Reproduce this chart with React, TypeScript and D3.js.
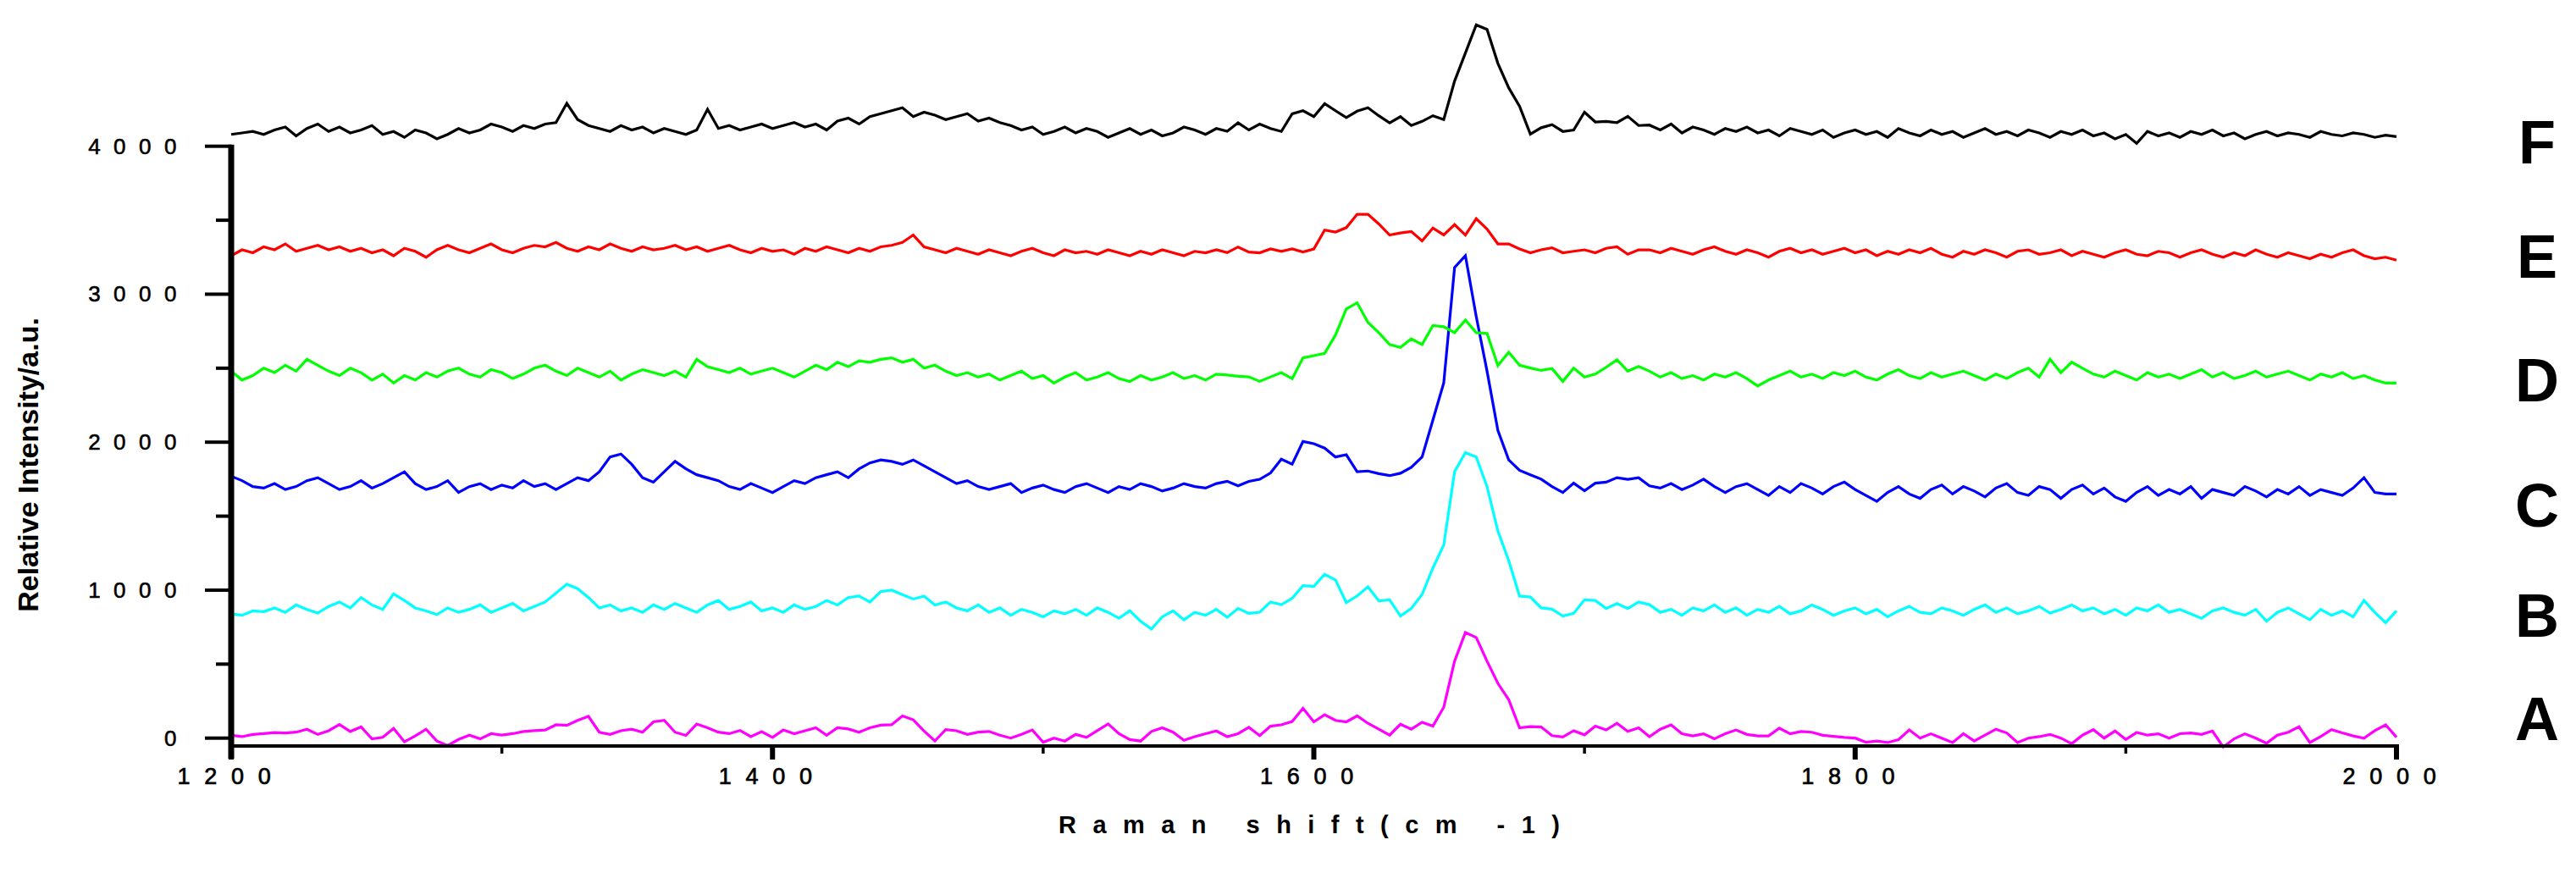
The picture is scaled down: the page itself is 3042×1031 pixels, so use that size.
import React from "react";
import * as d3 from "d3";

// Raman spectra, stacked. Values on a 4 cm-1 grid.
const shift = d3.range(1200, 2001, 4);

const seriesA = [
  19, 10, 25, 30, 38, 35, 40, 60, 25, 50,
  92, 45, 76, -5, 5, 65, -25, 15, 60, -20,
  -50, -9, 20, -5, 30, 20, 30, 45, 50, 55,
  90, 86, 120, 147, 40, 25, 50, 60, 40, 110,
  120, 40, 18, 95, 70, 40, 30, 52, 10, 44,
  5, 55, 30, 50, 70, 20, 70, 62, 40, 70,
  88, 90, 150, 124, 48, -19, 57, 50, 25, 40,
  45, 20, 0, 25, 55, -28, 0, -20, 25, 5,
  50, 96, 30, -10, -20, 45, 70, 40, -15, 10,
  30, 48, 10, 30, 73, 17, 81, 90, 112, 201,
  110, 158, 120, 110, 150, 100, 60, 20, 94, 60,
  107, 81, 209, 520, 714, 680, 520, 370, 260, 70,
  78, 75, 17, 8, 50, 22, 81, 55, 100, 45,
  70, 10, 60, 90, 30, 15, 29, -5, 30, 55,
  25, 15, 15, 67, 29, 45, 40, 19, 12, 5,
  0, -28, -20, -30, -10, 55, 0, 29, 0, -30,
  30, -20, 20, 60, 35, -30, 0, 10, 25, 0,
  -38, 20, 57, 0, 48, -9, 38, 20, 29, 0,
  30, 35, 25, 48, -60, -5, 29, 0, -35, 20,
  40, 76, -30, 10, 57, 35, 15, 0, 50, 90,
  6,
];

const seriesB = [
  840, 830, 860, 855, 880, 850, 900, 870, 845, 890,
  920, 880, 950, 900, 870, 975, 930, 880, 860, 835,
  880, 850, 870, 900, 850, 880, 910, 860, 890, 920,
  980, 1040, 1010, 950, 880, 900, 860, 880, 850, 900,
  870, 910, 880, 850, 900, 930, 870, 890, 920, 860,
  880, 850, 900, 870, 890, 930, 900, 950, 960, 920,
  990, 1000, 970, 940, 960, 900, 920, 880, 860, 900,
  850, 880, 830, 870, 850, 820, 860, 840, 870, 830,
  880, 850, 810, 860, 790, 737, 820, 860, 800, 850,
  830, 870, 817, 876, 843, 851, 920, 902, 945, 1030,
  1025, 1107, 1069, 915, 961, 1022, 928, 935, 825, 876,
  971, 1150, 1305, 1800, 1930, 1900, 1700, 1400, 1200, 960,
  953, 880, 872, 825, 843, 935, 930, 876, 910, 876,
  920, 902, 850, 870, 830, 880, 860, 900, 850, 880,
  830, 870, 850, 890, 840, 860, 900, 870, 830, 860,
  880, 840, 870, 820, 860, 890, 850, 840, 880, 860,
  830, 870, 900, 850, 880, 840, 860, 890, 845, 870,
  900, 860, 880, 840, 870, 830, 880, 860, 900, 850,
  870, 840, 810, 860, 880, 850, 830, 870, 790, 850,
  880, 840, 800, 870, 830, 860, 820, 930, 850, 780,
  860,
];

const seriesC = [
  1770, 1740, 1700, 1690, 1720, 1680, 1700, 1740, 1760, 1720,
  1680, 1700, 1740, 1690, 1720, 1760, 1800, 1720, 1680, 1700,
  1740, 1660, 1700, 1720, 1680, 1710, 1690, 1740, 1700, 1720,
  1680, 1720, 1760, 1740, 1800, 1900, 1920, 1850, 1760, 1730,
  1800, 1870, 1820, 1780, 1760, 1740, 1700, 1680, 1720, 1690,
  1660, 1700, 1740, 1720, 1760, 1780, 1800, 1760, 1820, 1860,
  1880, 1870, 1850, 1880, 1840, 1800, 1760, 1720, 1740, 1700,
  1680, 1700, 1720, 1660, 1690, 1710, 1680, 1660, 1700, 1720,
  1690, 1660, 1700, 1680, 1720, 1700, 1670, 1690, 1720, 1700,
  1690, 1720, 1736, 1705, 1735, 1749, 1792, 1885, 1851, 2005,
  1990, 1960, 1900, 1915, 1800, 1805, 1787, 1774, 1790, 1830,
  1900, 2150, 2400, 3180, 3260, 2850, 2480, 2080, 1880, 1810,
  1780, 1750, 1700, 1660, 1723, 1672, 1723, 1730, 1760, 1749,
  1760, 1705, 1690, 1720, 1680, 1710, 1750, 1700, 1660, 1700,
  1720, 1680, 1640, 1700, 1660, 1720, 1690, 1650, 1700, 1730,
  1680, 1640, 1600, 1660, 1700, 1650, 1620, 1680, 1710, 1650,
  1700, 1670, 1630, 1690, 1720, 1660, 1640, 1700, 1680, 1620,
  1680, 1710, 1650, 1690, 1630, 1600, 1660, 1700, 1640, 1680,
  1650, 1700, 1620, 1680, 1660, 1640, 1700, 1670, 1630, 1680,
  1650, 1700, 1640, 1680, 1660, 1640, 1690, 1760, 1660, 1650,
  1650,
];

const seriesD = [
  2480, 2420, 2450, 2500, 2470, 2520, 2480, 2560, 2520, 2480,
  2450, 2500, 2470, 2420, 2460, 2400, 2450, 2420, 2470, 2440,
  2480, 2500, 2460, 2440, 2490, 2470, 2430, 2460, 2500, 2520,
  2480, 2450, 2500, 2470, 2440, 2480, 2420, 2460, 2490, 2470,
  2450, 2480, 2440, 2560, 2510, 2490, 2470, 2500, 2460, 2480,
  2500, 2470, 2440, 2480, 2520, 2490, 2540, 2510, 2550, 2540,
  2560, 2570, 2540, 2560, 2500, 2520, 2480, 2450, 2470, 2440,
  2460, 2420, 2450, 2480, 2430, 2450, 2400, 2440, 2470, 2420,
  2440, 2470, 2430, 2410, 2450, 2420, 2440, 2470, 2430, 2450,
  2420, 2460, 2454, 2445, 2441, 2411, 2441, 2470, 2429, 2570,
  2585, 2600, 2724, 2900, 2942, 2810, 2740, 2660, 2640, 2698,
  2660, 2788, 2780, 2740, 2826, 2740, 2735, 2518, 2608, 2520,
  2501, 2485, 2498, 2411, 2501, 2440, 2460, 2506, 2557, 2480,
  2512, 2480, 2440, 2470, 2430, 2450, 2420, 2460, 2440, 2470,
  2430, 2380, 2420, 2450, 2480, 2440, 2460, 2430, 2470, 2450,
  2480, 2440, 2420, 2460, 2490, 2450, 2430, 2470, 2440, 2460,
  2480, 2450, 2420, 2460, 2430, 2470, 2500, 2440, 2560, 2470,
  2540, 2500, 2460, 2440, 2480, 2450, 2420, 2470, 2440, 2460,
  2430, 2460, 2490, 2440, 2470, 2430, 2450, 2480, 2440, 2460,
  2480, 2450, 2420, 2460, 2440, 2470, 2430, 2450, 2420, 2400,
  2400,
];

const seriesE = [
  3260, 3300, 3280, 3320, 3300, 3340, 3290, 3310, 3330, 3300,
  3320, 3290, 3310, 3280, 3300, 3260, 3310, 3290, 3250, 3300,
  3330, 3300, 3280, 3310, 3340, 3300, 3280, 3310, 3330, 3320,
  3350, 3310, 3290, 3320, 3300, 3340, 3310, 3290, 3320, 3300,
  3310, 3330, 3300, 3320, 3290, 3310, 3330, 3300, 3280, 3310,
  3290, 3300, 3270, 3310, 3290, 3320, 3300, 3280, 3310, 3290,
  3320, 3330, 3350, 3400, 3320, 3300, 3280, 3310, 3290, 3270,
  3300, 3280, 3260, 3290, 3310, 3280, 3260, 3300, 3280, 3290,
  3270, 3300, 3280, 3260, 3290, 3270, 3300, 3280, 3260, 3290,
  3280, 3300, 3281, 3319, 3285, 3280, 3306, 3290, 3306, 3285,
  3305, 3433, 3420, 3450, 3540, 3540, 3475, 3400, 3414, 3424,
  3360, 3447, 3401, 3470, 3400, 3510, 3440, 3340, 3340, 3306,
  3280, 3300, 3314, 3280, 3290, 3300, 3280, 3310, 3320, 3270,
  3300, 3300, 3280, 3310, 3290, 3270, 3300, 3320, 3290, 3270,
  3300, 3280, 3250, 3290, 3310, 3280, 3300, 3270, 3290, 3310,
  3280, 3300, 3260, 3290, 3270, 3300, 3280, 3310, 3270, 3250,
  3290, 3270, 3300, 3280, 3250, 3290, 3300, 3270, 3280, 3300,
  3260, 3290, 3270, 3250, 3280, 3300, 3270, 3260, 3290, 3280,
  3250, 3280, 3300, 3270, 3250, 3280, 3260, 3300, 3270, 3250,
  3280, 3260, 3240, 3270, 3250, 3280, 3300, 3260, 3240, 3250,
  3230,
];

const seriesF = [
  4080, 4090, 4100, 4080, 4110, 4130, 4070, 4120, 4150, 4100,
  4130, 4090, 4110, 4140, 4080, 4100, 4060, 4110, 4090, 4050,
  4080, 4120, 4090, 4110, 4150, 4130, 4100, 4140, 4120, 4150,
  4160, 4290, 4180, 4140, 4120, 4100, 4140, 4110, 4130, 4090,
  4120, 4100, 4080, 4110, 4250, 4120, 4140, 4110, 4130, 4150,
  4120, 4140, 4160, 4130, 4150, 4110, 4170, 4190, 4150, 4200,
  4220, 4240, 4260, 4200, 4230, 4210, 4180, 4200, 4220, 4170,
  4190, 4160, 4140, 4110, 4130, 4080, 4100, 4130, 4090, 4120,
  4100, 4060, 4090, 4120, 4080, 4110, 4070, 4090, 4130, 4110,
  4080, 4120, 4101, 4158, 4110, 4150, 4120, 4100, 4219, 4240,
  4200, 4288, 4240, 4194, 4237, 4260, 4206, 4158, 4200, 4140,
  4168, 4206, 4180, 4440, 4630, 4820, 4790, 4560, 4395, 4270,
  4082, 4125, 4146, 4100, 4110, 4230, 4164, 4168, 4160, 4202,
  4140, 4143, 4110, 4150, 4090, 4130, 4110, 4080, 4120, 4100,
  4130, 4090, 4110, 4070, 4120, 4100, 4080, 4110, 4060, 4090,
  4110, 4080, 4100, 4060, 4120, 4090, 4070, 4110, 4080, 4100,
  4060, 4090, 4120, 4080, 4100, 4070, 4110, 4090, 4060, 4100,
  4080, 4110, 4070, 4090, 4050, 4080, 4020, 4100, 4070, 4090,
  4060, 4100, 4080, 4110, 4070, 4090, 4050, 4080, 4100, 4070,
  4090, 4080, 4060, 4100, 4080, 4070, 4090, 4080, 4060, 4075,
  4065,
];

const seriesNames = ["A", "B", "C", "D", "E", "F"];
const seriesColors = ["#ff00ff", "#00ffff", "#0000ff", "#00ff00", "#ff0000", "#000000"];
const seriesValues = [seriesA, seriesB, seriesC, seriesD, seriesE, seriesF];

const yMajor = [0, 1000, 2000, 3000, 4000];
const yMinor = [500, 1500, 2500, 3500];
const xMajor = [1200, 1400, 1600, 1800, 2000];
const xMinor = [1300, 1500, 1700, 1900];

const W = 3042;
const H = 1031;
const FONT = "'Liberation Sans', Arial, sans-serif";

export default function App() {
  const x = d3.scaleLinear().domain([1200, 2000]).range([273, 2830]);
  const y = d3.scaleLinear().domain([0, 4000]).range([871.7, 172.7]);
  const axisY = 881;
  // baselines of the right-hand letters, in pixels
  const letterY = [874, 752, 622, 474, 328, 193];

  const line = d3
    .line<number>()
    .x((_d, i) => x(shift[i]))
    .y((d) => y(d));

  return (
    <svg
      width={W}
      height={H}
      viewBox={`0 0 ${W} ${H}`}
      style={{ position: "absolute", left: 0, top: 0, display: "block", background: "#fff" }}
      fontFamily={FONT}
    >
      {/* spectra */}
      {seriesValues.map((vals, k) => (
        <path key={seriesNames[k]} d={line(vals) || ""} fill="none" stroke={seriesColors[k]} strokeWidth={3.2} />
      ))}

      {/* axes */}
      <line x1={273} x2={273} y1={y(4000) - 2} y2={896} stroke="#000" strokeWidth={7} />
      <line x1={273} x2={x(2000) + 3} y1={axisY} y2={axisY} stroke="#000" strokeWidth={4} />

      {yMajor.map((v) => (
        <g key={"ym" + v}>
          <line x1={242} x2={273} y1={y(v)} y2={y(v)} stroke="#000" strokeWidth={4} />
          <text
            x={224}
            y={y(v) + 9}
            fontSize={26}
            letterSpacing={15.5}
            textAnchor="end"
            fill="#000"
            stroke="#000"
            strokeWidth={0.6}
          >
            {v}
          </text>
        </g>
      ))}
      {yMinor.map((v) => (
        <line key={"yn" + v} x1={255} x2={273} y1={y(v)} y2={y(v)} stroke="#000" strokeWidth={4} />
      ))}

      {xMajor.map((v) => (
        <g key={"xm" + v}>
          <line x1={x(v)} x2={x(v)} y1={axisY - 2} y2={897} stroke="#000" strokeWidth={6} />
          <text
            x={x(v)}
            y={926}
            fontSize={27}
            letterSpacing={16.7}
            textAnchor="middle"
            fill="#000"
            stroke="#000"
            strokeWidth={0.7}
          >
            {v}
          </text>
        </g>
      ))}
      {xMinor.map((v) => (
        <line key={"xn" + v} x1={x(v)} x2={x(v)} y1={axisY - 2} y2={890} stroke="#000" strokeWidth={3.5} />
      ))}

      {/* axis titles */}
      <text
        x={1250}
        y={984}
        fontSize={29}
        fontWeight="bold"
        textLength={592}
        lengthAdjust="spacing"
        fill="#000"
      >
        Raman shift(cm -1)
      </text>
      <text
        transform="translate(45,549) rotate(-90)"
        fontSize={34}
        fontWeight="bold"
        textAnchor="middle"
        fill="#000"
      >
        Relative Intensity/a.u.
      </text>

      {/* series letters */}
      {seriesNames.map((n, k) => (
        <text key={"lab" + n} x={2996} y={letterY[k]} fontSize={72} fontWeight="bold" textAnchor="middle" fill="#000">
          {n}
        </text>
      ))}
    </svg>
  );
}
